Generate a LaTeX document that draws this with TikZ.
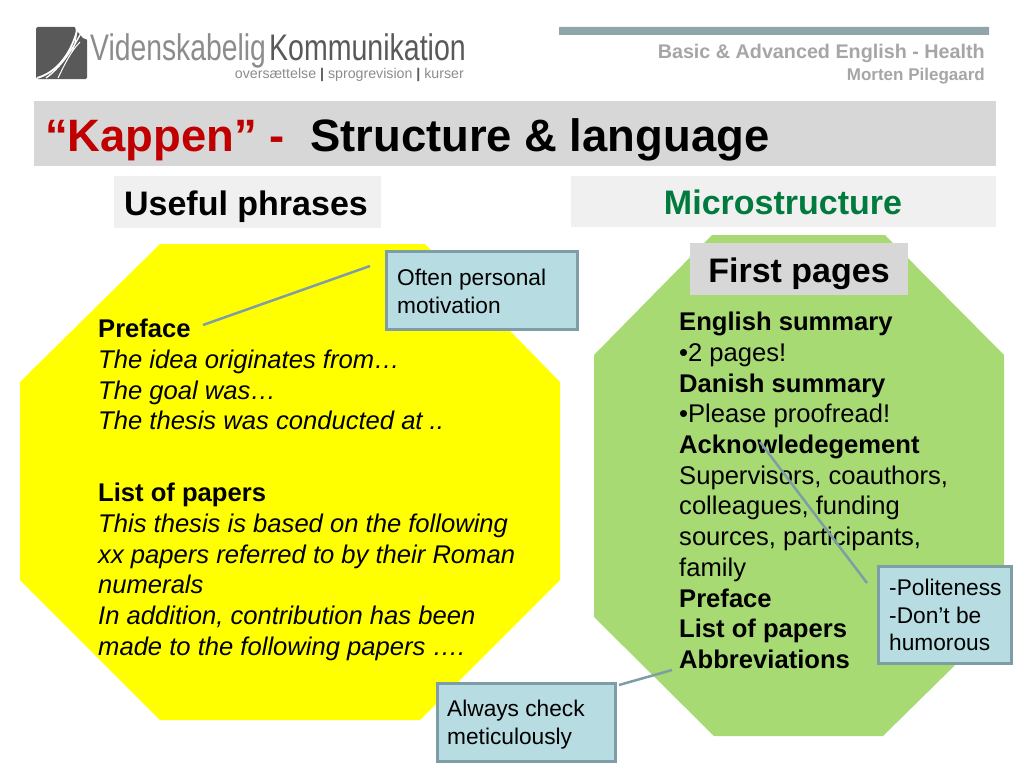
\documentclass[tikz,border=0pt]{standalone}
\usepackage{fontspec}
\setmainfont{Liberation Sans}
\definecolor{barg}{HTML}{D7D7D7}
\definecolor{lightg}{HTML}{F0F0F0}
\definecolor{yel}{HTML}{FFFF00}
\definecolor{grn}{HTML}{A8DA74}
\definecolor{callfill}{HTML}{B7DDE2}
\definecolor{callline}{HTML}{7F9DA6}
\definecolor{redt}{HTML}{C00000}
\definecolor{grnt}{HTML}{007A3D}
\definecolor{grayt}{HTML}{A6A6A6}
\definecolor{logod}{HTML}{595959}
\definecolor{logol}{HTML}{8C8C8C}
\definecolor{rule}{HTML}{8FA5A8}
\newcommand{\fs}[1]{\fontsize{#1}{#1}\selectfont}
\tikzset{
  x=1pt,y=-1pt,
  callout/.style={draw=callline,line width=2.5pt,fill=callfill,inner sep=0pt,anchor=north west},
  leader/.style={draw=callline,line width=2.5pt},
  body/.style={anchor=north west,inner sep=0pt,align=left,text=black,font=\fontsize{25.6}{30.7}\selectfont},
  small/.style={anchor=north west,inner sep=0pt,align=left,text=black,font=\fontsize{22.7}{27.6}\selectfont},
}
\begin{document}
\begin{tikzpicture}
\useasboundingbox (0,0) rectangle (1024,768);
\fill[white] (0,0) rectangle (1024,768);
% logo
\fill[logod,rounded corners=1.5pt] (36,27) rectangle (87,79);
\fill[white] (74,26) -- (88,26) -- (88,40) -- (83,38) -- (78,32) -- cycle;
\draw[white,line width=1.8pt] (37,78) .. controls (58,72) and (72,52) .. (78,27);
\draw[white,line width=1.3pt] (46,78) .. controls (60,68) and (73,50) .. (84,27);
\draw[white,line width=1pt] (58,78) .. controls (63,68) and (70,52) .. (80,42);
\draw[white,line width=1pt] (76,27) .. controls (77,34) and (76,42) .. (72,52);
\node[anchor=base west,inner sep=0pt,text=logol] (logoa) at (90,60) {\fs{37}\scalebox{0.765}[1]{Videnskabelig}};
\node[anchor=base west,inner sep=0pt,text=logod] (logob) at (269,60) {\fs{37}\scalebox{0.771}[1]{Kommunikation}};
\node[anchor=base east,inner sep=0pt,text=logol] (logoc) at (464,78) {\fs{14.2}oversættelse {\color{logod}\textbf{|}} sprogrevision {\color{logod}\textbf{|}} kurser};
% header
\fill[rule,rounded corners=0.5pt] (559,27) rectangle (989,35);
\node[anchor=base east,inner sep=0pt,text=grayt] (hdra) at (985,59) {\fs{19.75}\textbf{Basic \& Advanced English - Health}};
\node[anchor=base east,inner sep=0pt,text=grayt] (hdrb) at (985,80) {\fs{17}\textbf{Morten Pilegaard}};
% title
\fill[barg] (34,101) rectangle (996,166);
\node[anchor=base west,inner sep=0pt,text=redt] (titlea) at (45,151) {\fs{45.4}\textbf{“Kappen” -}};
\node[anchor=base west,inner sep=0pt] (titleb) at (310,151) {\fs{45.4}\textbf{Structure \& language}};
% section bands
\fill[lightg] (114,176) rectangle (381,228);
\node[anchor=base,inner sep=0pt] (useful) at (246,215) {\fs{34}\textbf{Useful phrases}};
\fill[lightg] (571,176) rectangle (996,227);
\node[anchor=base,inner sep=0pt,text=grnt] (micro) at (783,214) {\fs{34}\textbf{Microstructure}};
% octagons
\fill[yel] (160,244) -- (425,244) -- (560,382) -- (560,580) -- (420,720) -- (160,720) -- (20,580) -- (20,382) -- cycle;
\fill[grn] (712,235) -- (885,235) -- (1004,355) -- (1004,617) -- (883,736) -- (714,736) -- (594,617) -- (594,355) -- cycle;
% first pages
\fill[barg] (690,243) rectangle (908,295);
\node[anchor=base,inner sep=0pt] (first) at (799,282) {\fs{34}\textbf{First pages}};
% left text
\node[body] (lefta) at (98,319) {\textbf{Preface}\\\textit{The idea originates from…}\\\textit{The goal was…}\\\textit{The thesis was conducted at ..}};
\node[body] (leftb) at (98,483) {\textbf{List of papers}\\\textit{This thesis is based on the following}\\\textit{xx papers referred to by their Roman}\\\textit{numerals}\\\textit{In addition, contribution has been}\\\textit{made to the following papers ….}};
% right text
\node[body] (right) at (679,312) {\textbf{English summary}\\•2 pages!\\\textbf{Danish summary}\\•Please proofread!\\\textbf{Acknowledegement}\\Supervisors, coauthors,\\colleagues, funding\\sources, participants,\\family\\\textbf{Preface}\\\textbf{List of papers}\\\textbf{Abbreviations}};
% callouts
\node[callout,minimum width=191pt,minimum height=78pt] (ca) at (385,250) {};
\node[small] (cat) at (397,269) {Often personal\\motivation};
\node[callout,minimum width=133pt,minimum height=97pt] (cb) at (877,565) {};
\node[small] (cbt) at (889,579) {-Politeness\\-Don’t be\\humorous};
\node[callout,minimum width=178pt,minimum height=78pt] (cc) at (436,682) {};
\node[small] (cct) at (447,700) {Always check\\meticulously};
% leaders
\coordinate (la1) at (203,325);
\coordinate (la2) at (370,266);
\coordinate (lb1) at (867,583);
\coordinate (lb2) at (760,442);
\coordinate (lc1) at (619,685);
\coordinate (lc2) at (672,670);
\draw[leader] (la1) -- (la2);
\draw[leader] (lb1) -- (lb2);
\draw[leader] (lc1) -- (lc2);
\end{tikzpicture}
\end{document}
